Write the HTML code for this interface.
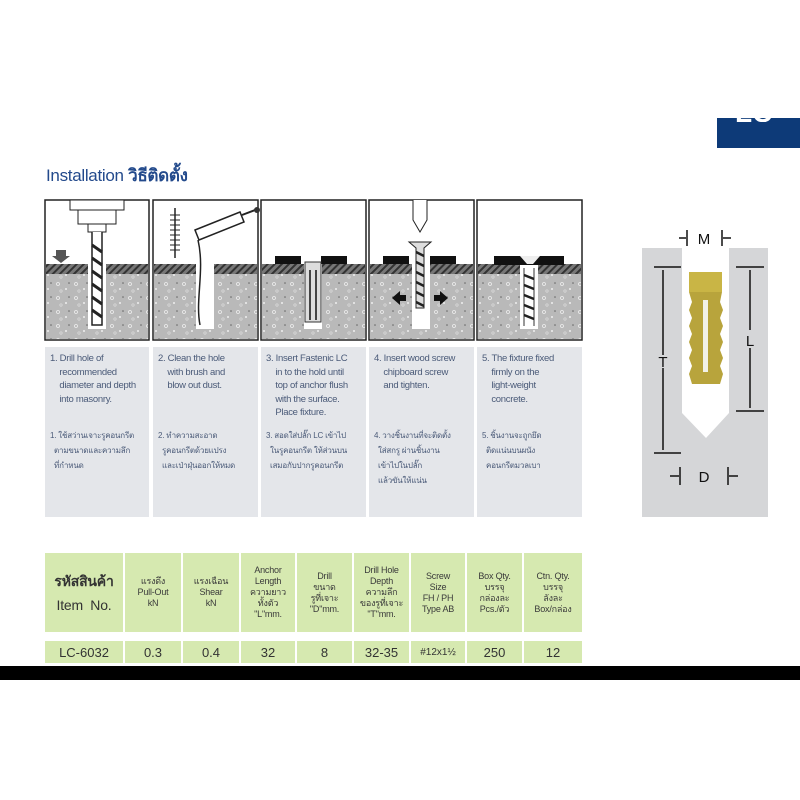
<!DOCTYPE html>
<html><head><meta charset="utf-8"><style>
body{margin:0;width:800px;height:800px;background:#fff;position:relative;overflow:hidden;font-family:"Liberation Sans","Noto Sans CJK SC",sans-serif}
.a{position:absolute}
.tb{position:absolute;top:347px;height:170px;background:#e4e6ea;color:#4a5a78;font-size:9.5px;letter-spacing:-0.3px;line-height:13.5px;box-sizing:border-box;padding:5px 2px 0 5px;white-space:nowrap;overflow:hidden}
.tb .th{margin-top:22px;font-family:"Liberation Sans","Noto Sans CJK TC",sans-serif;font-size:8px;letter-spacing:-0.2px;line-height:15px}
.c{position:absolute;background:#d6e9b0;display:flex;align-items:center;justify-content:center;text-align:center;color:#3a3a3a;font-size:9px;line-height:11px;white-space:nowrap;letter-spacing:-0.2px}
.d{position:absolute;background:#d6e9b0;top:641px;height:22px;display:flex;align-items:center;justify-content:center;font-size:13px;color:#333}
</style></head><body>
<div class="a" style="left:717px;top:118px;width:83px;height:30px;background:#0d3a78"></div>
<div class="a" style="left:735px;top:108px;width:60px;height:14px;overflow:hidden;color:#fff;font-weight:bold;font-size:28px;line-height:10px">LC</div>
<div class="a" style="left:46px;top:162px;font-size:17px;color:#234a8c;letter-spacing:-0.3px">Installation <b style="font-family:'Liberation Sans','Noto Sans CJK TC',sans-serif">วิธีติดตั้ง</b></div>

<svg class="a" style="left:0;top:0" width="800" height="800">
<defs>
<pattern id="h" width="5" height="5" patternUnits="userSpaceOnUse" patternTransform="rotate(45)"><rect width="5" height="5" fill="#777"/><rect width="2" height="5" fill="#333"/></pattern>
<pattern id="s" width="18" height="14" patternUnits="userSpaceOnUse"><rect width="18" height="14" fill="#b9b9b9"/><circle cx="4" cy="4" r="1.5" fill="none" stroke="#eee" stroke-width="0.8"/><circle cx="12" cy="9" r="1" fill="#eee"/><circle cx="15" cy="3" r="0.8" fill="#666"/><circle cx="7" cy="11" r="1.2" fill="none" stroke="#ddd" stroke-width="0.7"/></pattern>
</defs>
<g stroke="#222" stroke-width="1.5">
<rect x="45" y="200" width="104" height="140" fill="#fff"/>
<rect x="153" y="200" width="105" height="140" fill="#fff"/>
<rect x="261" y="200" width="105" height="140" fill="#fff"/>
<rect x="369" y="200" width="105" height="140" fill="#fff"/>
<rect x="477" y="200" width="105" height="140" fill="#fff"/>
</g>
<g>
<rect x="46" y="264" width="102" height="10" fill="url(#h)"/><rect x="46" y="274" width="102" height="65" fill="url(#s)"/>
<rect x="154" y="264" width="103" height="10" fill="url(#h)"/><rect x="154" y="274" width="103" height="65" fill="url(#s)"/>
<rect x="262" y="264" width="103" height="10" fill="url(#h)"/><rect x="262" y="274" width="103" height="65" fill="url(#s)"/>
<rect x="370" y="264" width="103" height="10" fill="url(#h)"/><rect x="370" y="274" width="103" height="65" fill="url(#s)"/>
<rect x="478" y="264" width="103" height="10" fill="url(#h)"/><rect x="478" y="274" width="103" height="65" fill="url(#s)"/>
</g>
<g fill="#fff"><rect x="88" y="264" width="18" height="65"/><rect x="196" y="264" width="18" height="65"/><rect x="304" y="264" width="18" height="65"/><rect x="412" y="264" width="18" height="65"/><rect x="520" y="264" width="18" height="65"/></g>
<rect x="70" y="200" width="54" height="10" fill="#fff" stroke="#222"/><rect x="78" y="210" width="38" height="14" fill="#fff" stroke="#222"/><rect x="88" y="224" width="18" height="8" fill="#fff" stroke="#222"/>
<path d="M92 232 L92 325 L102 325 L102 232" fill="#fff" stroke="#222" stroke-width="1.5"/>
<path d="M92 245 L102 252 M92 258 L102 265 M92 271 L102 278 M92 284 L102 291 M92 297 L102 304 M92 310 L102 317" stroke="#222" stroke-width="3"/>
<path d="M56 250 h10 v6 h4 l-9 7 l-9-7 h4z" fill="#555"/>
<line x1="175" y1="208" x2="175" y2="258" stroke="#222" stroke-width="1.5"/>
<path d="M170 215h10M170 220h10M170 225h10M170 230h10M170 235h10M170 240h10M170 245h10M170 250h10" stroke="#222"/>
<path d="M195 230 L240 212 L244 222 L199 240z" fill="#fff" stroke="#222" stroke-width="1.5"/>
<path d="M242 215 L255 210" stroke="#222" stroke-width="2"/><circle cx="257" cy="210" r="3" fill="#333"/>
<path d="M198 240 C205 270 195 300 200 325" fill="none" stroke="#222" stroke-width="1.5"/>
<rect x="275" y="256" width="26" height="8" fill="#111"/><rect x="321" y="256" width="26" height="8" fill="#111"/>
<rect x="305" y="262" width="16" height="60" fill="#ddd" stroke="#333"/><path d="M310 270v50M316 270v50" stroke="#444" stroke-width="2"/>
<rect x="383" y="256" width="26" height="8" fill="#111"/><rect x="430" y="256" width="26" height="8" fill="#111"/>
<path d="M413 200 v20 l7 12 l7-12 v-20" fill="#fff" stroke="#222"/>
<path d="M409 242 h22 l-7 6 v60 h-8 v-60z" fill="#ddd" stroke="#222"/>
<path d="M416 252l8 4M416 262l8 4M416 272l8 4M416 282l8 4M416 292l8 4M416 302l8 4" stroke="#222" stroke-width="2.5"/>
<path d="M392 298 l8 -7 v14z M448 298 l-8 -7 v14z" fill="#111"/><rect x="399" y="295" width="7" height="6" fill="#111"/><rect x="434" y="295" width="7" height="6" fill="#111"/>
<rect x="494" y="256" width="70" height="9" fill="#111"/><path d="M520 256 h20 l-7 8 h-6z" fill="#eee"/>
<path d="M524 268v58M534 268v58" stroke="#333"/><path d="M524 275l10 4M524 285l10 4M524 295l10 4M524 305l10 4M524 315l10 4" stroke="#222" stroke-width="2.5"/>
<path d="M642 248 H682 V413 L706 438 L729 413 V248 H768 V517 H642Z" fill="#d5d6d8"/>
<rect x="689" y="272" width="33" height="20" fill="#c9b545"/>
<path d="M689 292 h33 l-2 10 l3 8 -3 8 3 8 -3 8 3 8 -3 8 3 8 -3 8 3 8 -3 10 h-28 l-3-10 3-8 -3-8 3-8 -3-8 3-8 -3-8 3-8 -3-8 3-8z" fill="#b8a43c"/>
<rect x="703" y="300" width="5" height="72" fill="#f2f2e8"/>
<g stroke="#111" stroke-width="1.5" fill="#111">
<line x1="654" y1="267" x2="681" y2="267"/><line x1="654" y1="453" x2="681" y2="453"/><line x1="663" y1="270" x2="663" y2="355"/><line x1="663" y1="368" x2="663" y2="450"/>
<line x1="736" y1="267" x2="764" y2="267"/><line x1="736" y1="411" x2="764" y2="411"/><line x1="750" y1="270" x2="750" y2="330"/><line x1="750" y1="348" x2="750" y2="408"/>
<line x1="687" y1="230" x2="687" y2="246"/><line x1="722" y1="230" x2="722" y2="246"/><line x1="679" y1="238" x2="686" y2="238"/><line x1="723" y1="238" x2="731" y2="238"/>
<line x1="680" y1="467" x2="680" y2="485"/><line x1="728" y1="467" x2="728" y2="485"/><line x1="670" y1="476" x2="679" y2="476"/><line x1="729" y1="476" x2="738" y2="476"/>
</g>
<text x="704" y="244" font-size="15" text-anchor="middle" fill="#111" font-family="Liberation Sans">M</text>
<text x="663" y="367" font-size="15" text-anchor="middle" fill="#111" font-family="Liberation Sans">T</text>
<text x="750" y="346" font-size="15" text-anchor="middle" fill="#111" font-family="Liberation Sans">L</text>
<text x="704" y="482" font-size="15" text-anchor="middle" fill="#111" font-family="Liberation Sans">D</text>
</svg>

<div class="tb" style="left:45px;width:104px">1. Drill hole of<br>&nbsp;&nbsp;&nbsp;&nbsp;recommended<br>&nbsp;&nbsp;&nbsp;&nbsp;diameter and depth<br>&nbsp;&nbsp;&nbsp;&nbsp;into masonry.<div class="th">1. ใช้สว่านเจาะรูคอนกรีต<br>&nbsp;&nbsp;ตามขนาดและความลึก<br>&nbsp;&nbsp;ที่กำหนด</div></div>
<div class="tb" style="left:153px;width:105px">2. Clean the hole<br>&nbsp;&nbsp;&nbsp;&nbsp;with brush and<br>&nbsp;&nbsp;&nbsp;&nbsp;blow out dust.<div class="th" style="margin-top:35px">2. ทำความสะอาด<br>&nbsp;&nbsp;รูคอนกรีตด้วยแปรง<br>&nbsp;&nbsp;และเป่าฝุ่นออกให้หมด</div></div>
<div class="tb" style="left:261px;width:105px">3. Insert Fastenic LC<br>&nbsp;&nbsp;&nbsp;&nbsp;in to the hold until<br>&nbsp;&nbsp;&nbsp;&nbsp;top of anchor flush<br>&nbsp;&nbsp;&nbsp;&nbsp;with the surface.<br>&nbsp;&nbsp;&nbsp;&nbsp;Place fixture.<div class="th" style="margin-top:8px">3. สอดใส่ปลั๊ก LC เข้าไป<br>&nbsp;&nbsp;ในรูคอนกรีต ให้ส่วนบน<br>&nbsp;&nbsp;เสมอกับปากรูคอนกรีต</div></div>
<div class="tb" style="left:369px;width:105px">4. Insert wood screw<br>&nbsp;&nbsp;&nbsp;&nbsp;chipboard screw<br>&nbsp;&nbsp;&nbsp;&nbsp;and tighten.<div class="th" style="margin-top:35px">4. วางชิ้นงานที่จะติดตั้ง<br>&nbsp;&nbsp;ใส่สกรู ผ่านชิ้นงาน<br>&nbsp;&nbsp;เข้าไปในปลั๊ก<br>&nbsp;&nbsp;แล้วขันให้แน่น</div></div>
<div class="tb" style="left:477px;width:105px">5. The fixture fixed<br>&nbsp;&nbsp;&nbsp;&nbsp;firmly on the<br>&nbsp;&nbsp;&nbsp;&nbsp;light-weight<br>&nbsp;&nbsp;&nbsp;&nbsp;concrete.<div class="th">5. ชิ้นงานจะถูกยึด<br>&nbsp;&nbsp;ติดแน่นบนผนัง<br>&nbsp;&nbsp;คอนกรีตมวลเบา</div></div>

<div class="c" style="left:45px;top:553px;width:78px;height:79px;font-size:14px;line-height:24px;color:#333"><div><b>รหัสสินค้า</b><br>Item&nbsp; No.</div></div>
<div class="c" style="left:125px;top:553px;width:56px;height:79px">แรงดึง<br>Pull-Out<br>kN</div>
<div class="c" style="left:183px;top:553px;width:56px;height:79px">แรงเฉือน<br>Shear<br>kN</div>
<div class="c" style="left:241px;top:553px;width:54px;height:79px">Anchor<br>Length<br>ความยาว<br>ทั้งตัว<br>"L"mm.</div>
<div class="c" style="left:297px;top:553px;width:55px;height:79px">Drill<br>ขนาด<br>รูที่เจาะ<br>"D"mm.</div>
<div class="c" style="left:354px;top:553px;width:55px;height:79px">Drill Hole<br>Depth<br>ความลึก<br>ของรูที่เจาะ<br>"T"mm.</div>
<div class="c" style="left:411px;top:553px;width:54px;height:79px">Screw<br>Size<br>FH / PH<br>Type AB</div>
<div class="c" style="left:467px;top:553px;width:55px;height:79px">Box Qty.<br>บรรจุ<br>กล่องละ<br>Pcs./ตัว</div>
<div class="c" style="left:524px;top:553px;width:58px;height:79px">Ctn. Qty.<br>บรรจุ<br>ลังละ<br>Box/กล่อง</div>

<div class="d" style="left:45px;width:78px">LC-6032</div>
<div class="d" style="left:125px;width:56px">0.3</div>
<div class="d" style="left:183px;width:56px">0.4</div>
<div class="d" style="left:241px;width:54px">32</div>
<div class="d" style="left:297px;width:55px">8</div>
<div class="d" style="left:354px;width:55px">32-35</div>
<div class="d" style="left:411px;width:54px;font-size:10px">#12x1½</div>
<div class="d" style="left:467px;width:55px">250</div>
<div class="d" style="left:524px;width:58px">12</div>

<div class="a" style="left:0;top:666px;width:800px;height:14px;background:#000"></div>
</body></html>
